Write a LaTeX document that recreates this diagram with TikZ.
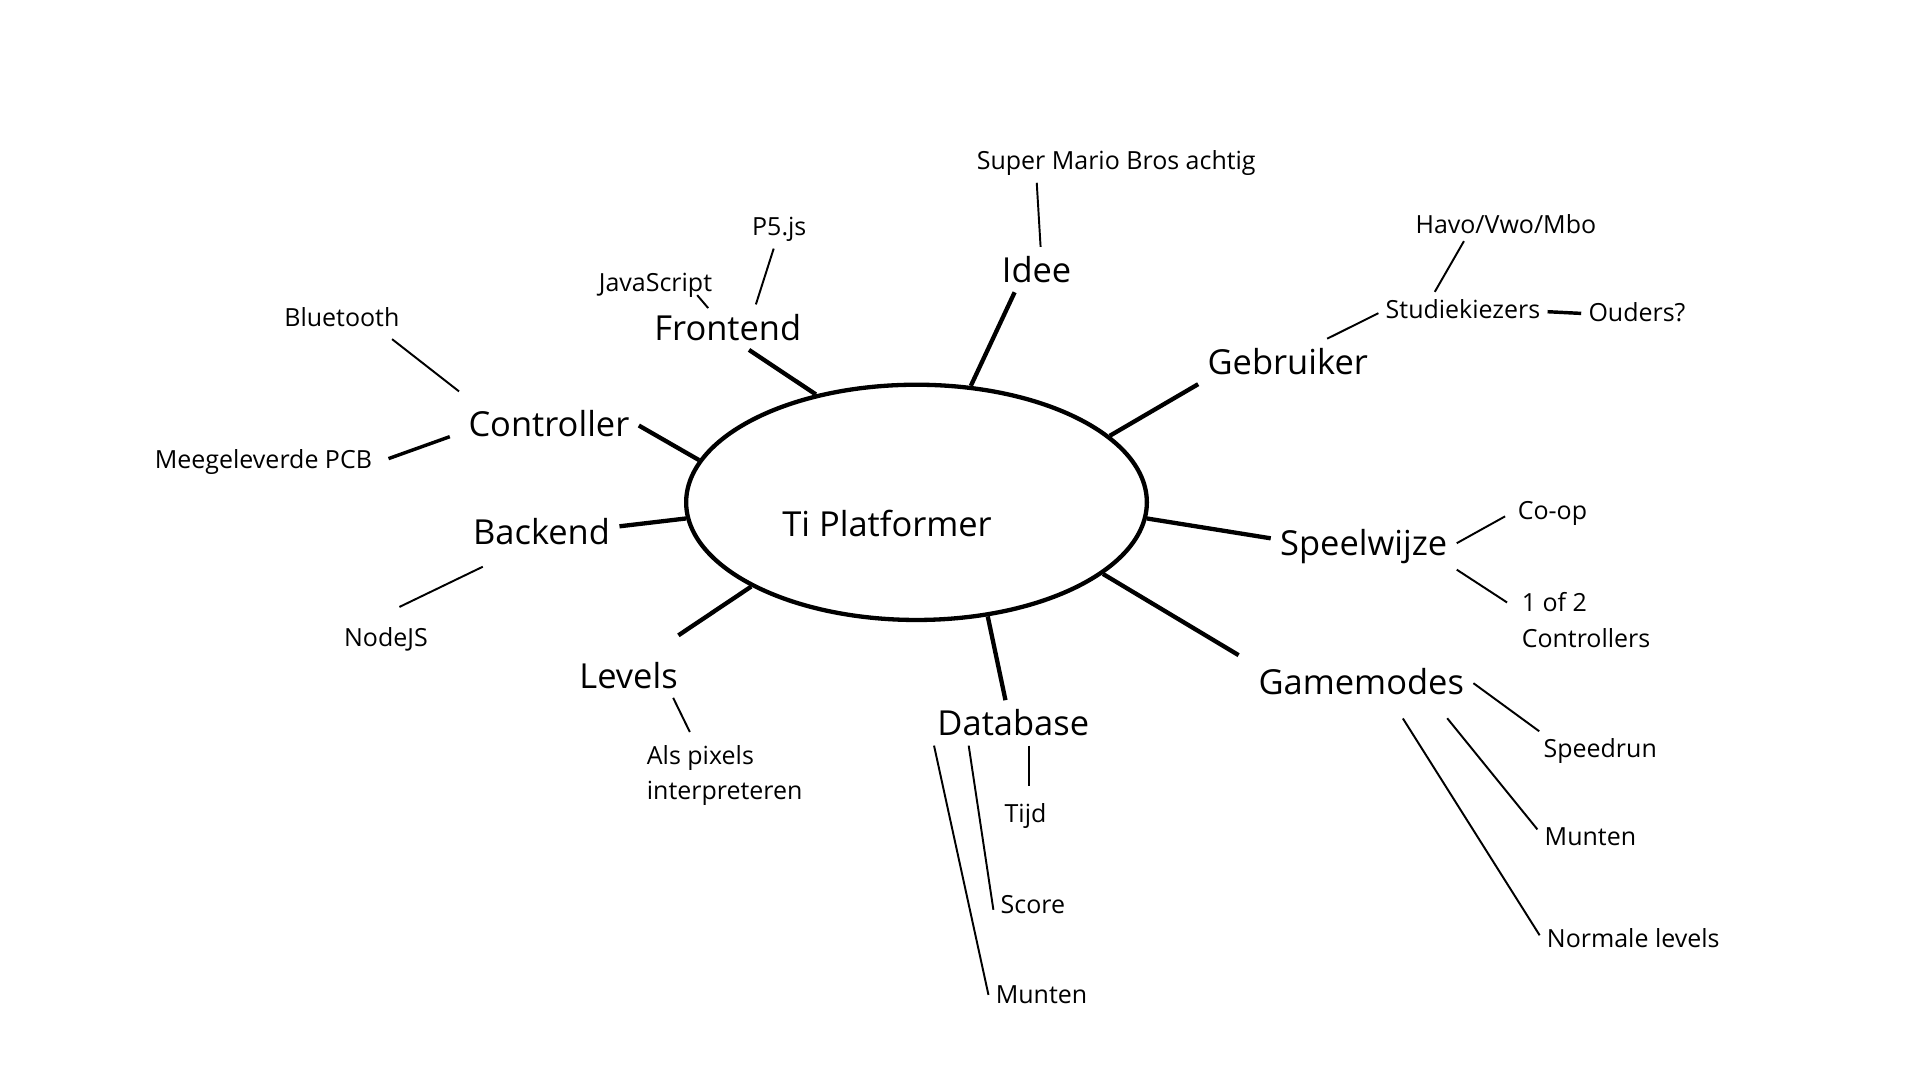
\documentclass[tikz,border=0pt]{standalone}
\usepackage{fontspec}
\setmainfont{Open Sans}
\usetikzlibrary{shapes.geometric, calc}
\begin{document}
\begin{tikzpicture}[
        hoofd/.style={font=\fontsize{8}{10}\selectfont, inner sep=2pt},
        sub/.style={font=\fontsize{5.8}{8.2}\selectfont, inner sep=1.5pt, align=left},
        spoke/.style={line width=1pt},
        tak/.style={line width=0.45pt}
    ]
        \useasboundingbox (0, 0) rectangle (15.67, -8.815);
        % midden
        \node[draw, ellipse, line width=1pt, minimum width=3.76cm, minimum height=1.92cm] (tp) at (7.48, -4.10) {};
        \node[hoofd] (titel) at (7.24, -4.27) {Ti Platformer};
        % hoofdtakken
        \node[hoofd] (idee) at (8.46, -2.20) {Idee};
        \node[hoofd] (frontend) at (5.94, -2.67) {Frontend};
        \node[hoofd] (gebruiker) at (10.51, -2.95) {Gebruiker};
        \node[hoofd] (controller) at (4.48, -3.46) {Controller};
        \node[hoofd] (backend) at (4.42, -4.34) {Backend};
        \node[hoofd] (speelwijze) at (11.13, -4.46) {Speelwijze};
        \node[hoofd] (levels) at (5.13, -5.51) {Levels};
        \node[hoofd] (database) at (8.27, -5.90) {Database};
        \node[hoofd] (gamemodes) at (11.11, -5.56) {Gamemodes};
        % subtakken
        \node[sub] (mario) at (9.11, -1.33) {Super Mario Bros achtig};
        \node[sub] (p5) at (6.36, -1.87) {P5.js};
        \node[sub] (js) at (5.35, -2.33) {JavaScript};
        \node[sub] (havo) at (12.29, -1.83) {Havo/Vwo/Mbo};
        \node[sub] (studie) at (11.94, -2.52) {Studiekiezers};
        \node[sub] (ouders) at (13.36, -2.55) {Ouders?};
        \node[sub] (bluetooth) at (2.79, -2.59) {Bluetooth};
        \node[sub] (pcb) at (2.15, -3.77) {Meegeleverde PCB};
        \node[sub] (nodejs) at (3.15, -5.22) {NodeJS};
        \node[sub, anchor=west] (pixels) at (5.22, -6.33) {Als pixels\\interpreteren};
        \node[sub] (tijd) at (8.37, -6.66) {Tijd};
        \node[sub] (score) at (8.43, -7.38) {Score};
        \node[sub] (munten) at (8.50, -8.12) {Munten};
        \node[sub] (coop) at (12.67, -4.19) {Co-op};
        \node[sub, anchor=west] (twee) at (12.36, -5.06) {1 of 2\\Controllers};
        \node[sub] (speedrun) at (13.06, -6.13) {Speedrun};
        \node[sub] (munten2) at (12.98, -6.83) {Munten};
        \node[sub] (normaal) at (13.33, -7.66) {Normale levels};

        \draw[spoke] (tp.65) -- (idee.226);
        \draw[spoke] (tp.133) -- (frontend.-47);
        \draw[spoke] (tp.19) -- (gebruiker.south west);
        \draw[spoke] (tp.169) -- (controller.-1.5);
        \draw[spoke] (tp.184) -- (backend.4);
        \draw[spoke] (tp.-4) -- (speelwijze.175);
        \draw[spoke, shorten >=0.25cm] (tp.207) -- (levels.43);
        \draw[spoke] (tp.-58) -- (database.109);
        \draw[spoke, shorten >=0.1cm] (tp.-21.5) -- (gamemodes.170);

        \draw[tak] (idee.80) -- (mario.194);
        \draw[tak] (frontend.39) -- (p5.254);
        \draw[tak] ($(js.south)+(0.34,0.08)$) -- ($(frontend.north)+(-0.16,-0.03)$);
        \draw[tak] (gebruiker.30) -- (studie.183);
        \draw[tak] (studie.149) -- (havo.202);
        \draw[tak, line width=0.8pt] (studie.-2) -- (ouders.181);
        \draw[tak] ($(bluetooth.south)+(0.41,-0.04)$) -- ($(controller.north west)+(0,0.08)$);
        \draw[tak, line width=0.8pt, shorten <=0.08cm, shorten >=0.08cm] (controller.186) -- (pcb.0);
        \draw[tak] ($(nodejs.north)+(0.11,0.11)$) -- ($(backend.south)+(-0.48,-0.10)$);
        \draw[tak] (levels.-27) -- ($(pixels.north west)+(0.41,0.05)$);
        \draw[tak] ($(tijd.north |- database.south)+(0.03,0)$) -- ($(tijd.north)+(0.03,0.08)$);
        \draw[tak] (database.207) -- (score.188);
        \draw[tak] (database.196) -- (munten.180);
        \draw[tak, shorten >=0.05cm] (speelwijze.2) -- (coop.west);
        \draw[tak] (speelwijze.-14) -- ($(twee.north west)+(-0.06,-0.14)$);
        \draw[tak] (gamemodes.-1) -- (speedrun.162);
        \draw[tak, shorten <=0.15cm] (gamemodes.-17) -- (munten2.172);
        \draw[tak, shorten <=0.14cm] (gamemodes.-35) -- (normaal.178);
    \end{tikzpicture}
\end{document}
